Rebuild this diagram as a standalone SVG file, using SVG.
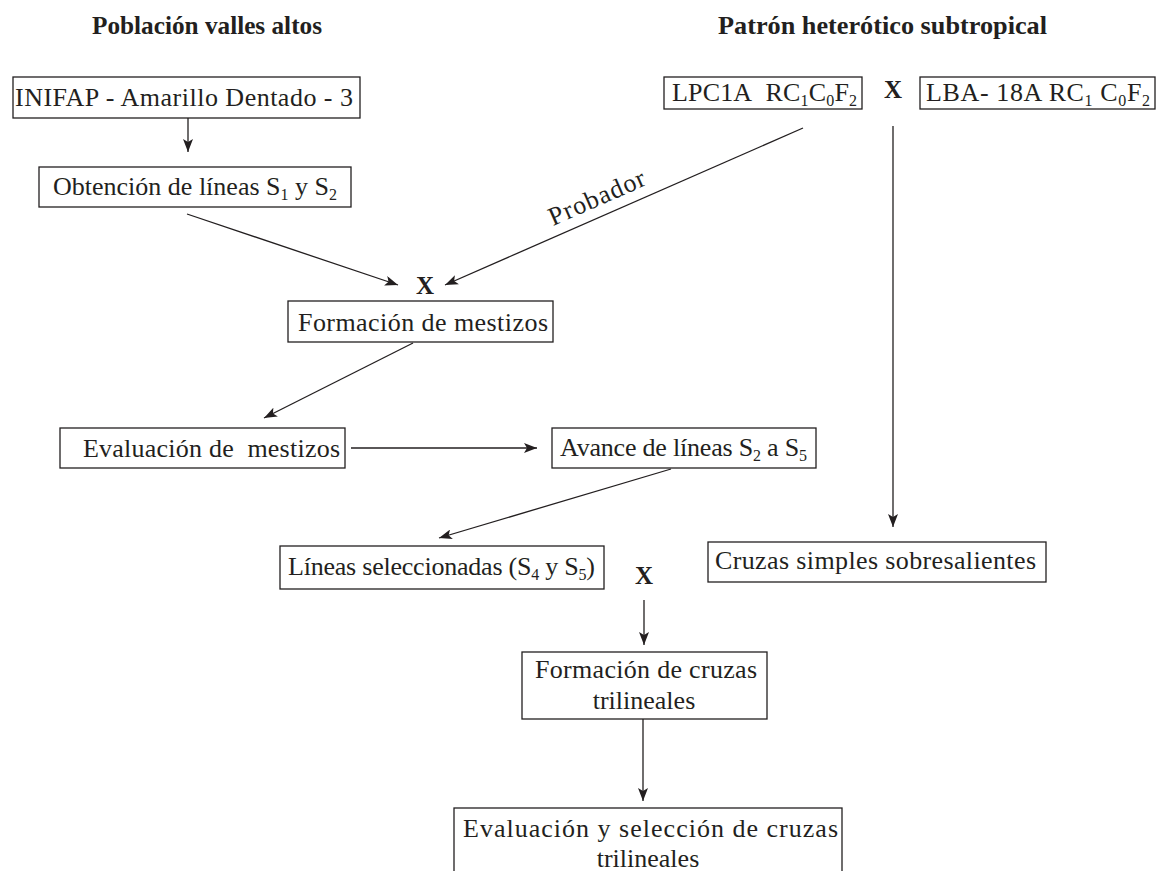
<svg xmlns="http://www.w3.org/2000/svg" width="1156" height="871" viewBox="0 0 1156 871">
<style>
.box{fill:#fff;stroke:#231f20;stroke-width:1.3}
.t{font-family:"Liberation Serif","Times New Roman",serif;font-size:26px;fill:#231f20}
.h{font-family:"Liberation Serif","Times New Roman",serif;font-size:25px;font-weight:bold;fill:#231f20}
.x{font-family:"Liberation Serif","Times New Roman",serif;font-size:25px;font-weight:bold;fill:#231f20;text-anchor:middle}
.s{font-size:16px}
.c{fill:none;stroke:#231f20;stroke-width:1.3}
</style>
<defs>
<marker id="ah" markerUnits="userSpaceOnUse" markerWidth="14" markerHeight="10" refX="13" refY="5" orient="auto">
<path d="M0,0 L13,5 L0,10 L3,5 Z" fill="#231f20"/>
</marker>
</defs>
<rect width="1156" height="871" fill="#fff"/>

<g id="headers">
<text class="h" x="92" y="34" textLength="230" lengthAdjust="spacingAndGlyphs">Población valles altos</text>
<text class="h" x="718" y="34" textLength="329" lengthAdjust="spacingAndGlyphs">Patrón heterótico subtropical</text>
</g>

<g id="connectors">
<line class="c" x1="188" y1="118" x2="188" y2="152" marker-end="url(#ah)"/>
<line class="c" x1="187" y1="214" x2="398" y2="285" marker-end="url(#ah)"/>
<line class="c" x1="803" y1="128" x2="445" y2="285" marker-end="url(#ah)"/>
<line class="c" x1="893" y1="126" x2="893" y2="527" marker-end="url(#ah)"/>
<line class="c" x1="413" y1="343" x2="264" y2="418" marker-end="url(#ah)"/>
<line class="c" x1="351" y1="448" x2="537" y2="448" marker-end="url(#ah)"/>
<line class="c" x1="671" y1="469" x2="439" y2="538" marker-end="url(#ah)"/>
<line class="c" x1="644" y1="600" x2="644" y2="645" marker-end="url(#ah)"/>
<line class="c" x1="643" y1="719" x2="643" y2="801" marker-end="url(#ah)"/>
<text class="t" font-size="24" transform="translate(553,226) rotate(-23.7)" textLength="103" lengthAdjust="spacing">Probador</text>
</g>

<g id="n-inifap">
<rect class="box" x="13" y="77" width="347" height="41"/>
<text class="t" x="15" y="106" textLength="338" lengthAdjust="spacing">INIFAP - Amarillo Dentado - 3</text>
</g>

<g id="n-obtencion">
<rect class="box" x="39" y="167" width="312" height="40"/>
<text class="t" x="53" y="195" textLength="284" lengthAdjust="spacing">Obtención de líneas S<tspan class="s" dy="5">1</tspan><tspan dy="-5"> y S</tspan><tspan class="s" dy="5">2</tspan></text>
</g>

<g id="n-lpc">
<rect class="box" x="664" y="77" width="198" height="32"/>
<text class="t" x="672" y="101" textLength="185" lengthAdjust="spacing">LPC1A&#160; RC<tspan class="s" dy="5">1</tspan><tspan dy="-5">C</tspan><tspan class="s" dy="5">0</tspan><tspan dy="-5">F</tspan><tspan class="s" dy="5">2</tspan></text>
</g>

<g id="x-top"><text class="x" x="893" y="98">X</text></g>

<g id="n-lba">
<rect class="box" x="920" y="77" width="235" height="32"/>
<text class="t" x="926" y="101" textLength="224" lengthAdjust="spacing">LBA- 18A RC<tspan class="s" dy="5">1</tspan><tspan dy="-5"> C</tspan><tspan class="s" dy="5">0</tspan><tspan dy="-5">F</tspan><tspan class="s" dy="5">2</tspan></text>
</g>

<g id="x-mid"><text class="x" x="425" y="294">X</text></g>

<g id="n-formacion">
<rect class="box" x="288" y="301" width="265" height="41"/>
<text class="t" x="298" y="331" textLength="250" lengthAdjust="spacing">Formación de mestizos</text>
</g>

<g id="n-evaluacion">
<rect class="box" x="60" y="428" width="285" height="40"/>
<text class="t" x="83" y="457" textLength="257" lengthAdjust="spacing">Evaluación de&#160; mestizos</text>
</g>

<g id="n-avance">
<rect class="box" x="552" y="428" width="264" height="40"/>
<text class="t" x="560" y="456" textLength="247" lengthAdjust="spacing">Avance de líneas S<tspan class="s" dy="5">2</tspan><tspan dy="-5"> a S</tspan><tspan class="s" dy="5">5</tspan></text>
</g>

<g id="n-lineas">
<rect class="box" x="280" y="546" width="324" height="43"/>
<text class="t" x="288" y="575" textLength="307" lengthAdjust="spacing">Líneas seleccionadas (S<tspan class="s" dy="5">4</tspan><tspan dy="-5"> y S</tspan><tspan class="s" dy="5">5</tspan><tspan dy="-5">)</tspan></text>
</g>

<g id="x-bot"><text class="x" x="644" y="584">X</text></g>

<g id="n-cruzas">
<rect class="box" x="708" y="542" width="338" height="40"/>
<text class="t" x="715" y="569" textLength="321" lengthAdjust="spacing">Cruzas simples sobresalientes</text>
</g>

<g id="n-formacion-cruzas">
<rect class="box" x="522" y="652" width="245" height="67"/>
<text class="t" x="535" y="678" textLength="222" lengthAdjust="spacing">Formación de cruzas</text>
<text class="t" x="644" y="709" text-anchor="middle">trilineales</text>
</g>

<g id="n-evaluacion-seleccion">
<rect class="box" x="454" y="808" width="388" height="80"/>
<text class="t" x="463" y="837" font-size="27" textLength="375" lengthAdjust="spacing">Evaluación y selección de cruzas</text>
<text class="t" x="648" y="867" font-size="27" text-anchor="middle">trilineales</text>
</g>
</svg>
